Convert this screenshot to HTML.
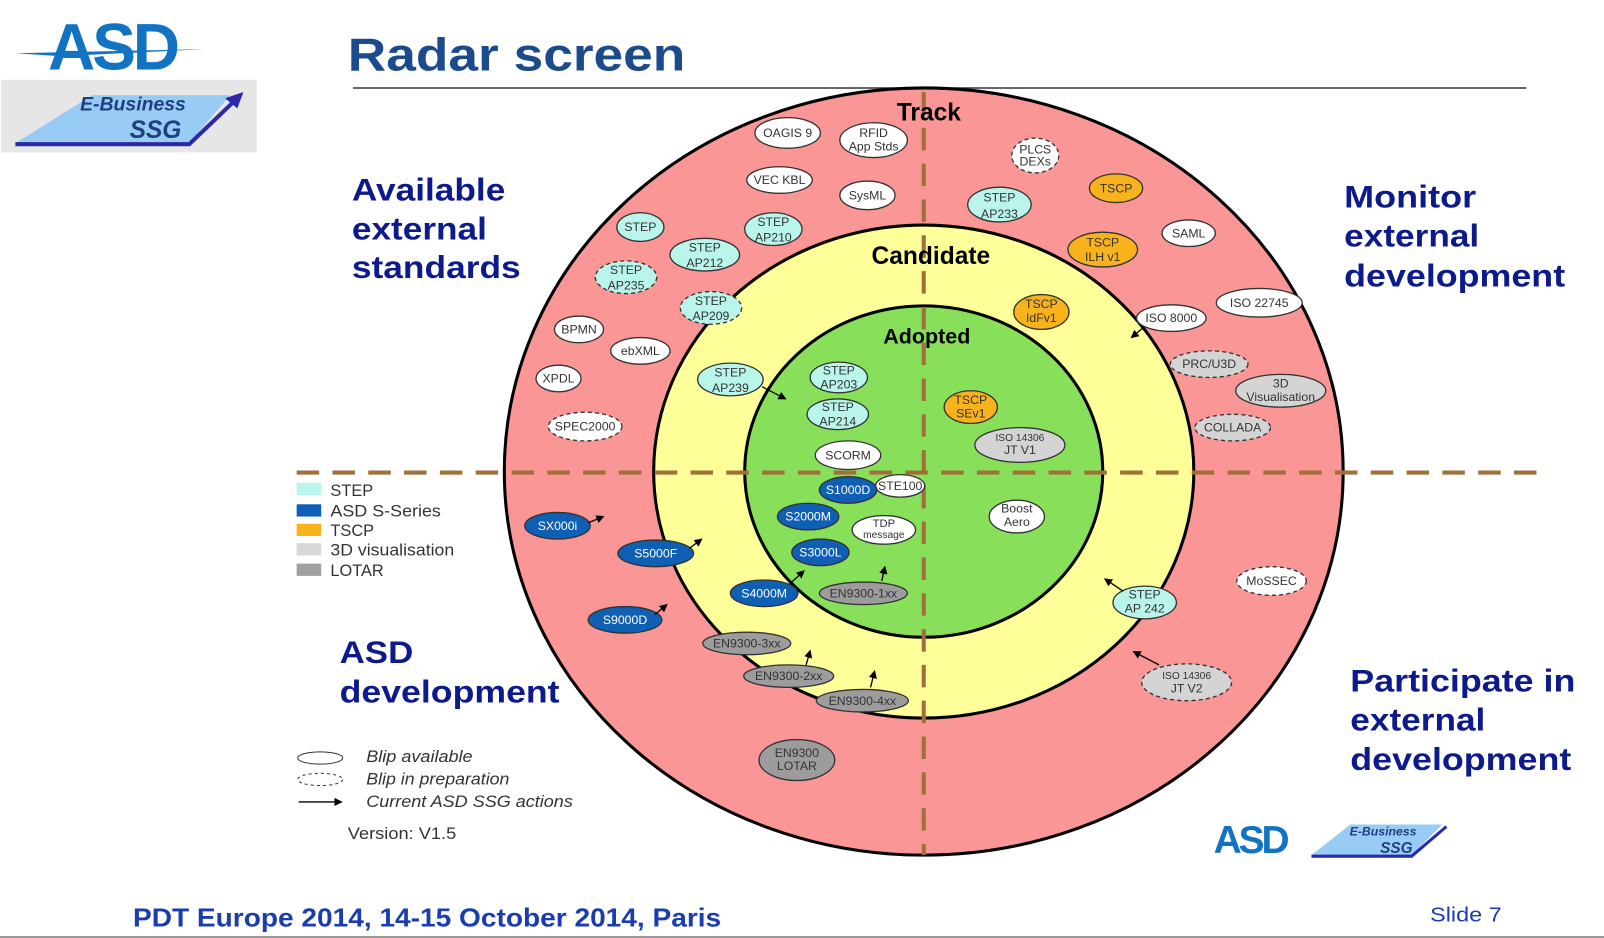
<!DOCTYPE html>
<html><head><meta charset="utf-8"><style>
html,body{margin:0;padding:0;background:#fff;overflow:hidden;}
svg{display:block;font-family:"Liberation Sans",sans-serif;}
.b text{font-size:12px;fill:#333;text-anchor:middle;}
.q{font-size:31px;font-weight:bold;fill:#0d1a8c;}
</style></head><body>
<svg width="1604" height="938" viewBox="0 0 1568 917" preserveAspectRatio="none" xmlns="http://www.w3.org/2000/svg">
<defs><marker id="ar" markerWidth="8" markerHeight="8" refX="7" refY="4" orient="auto" markerUnits="userSpaceOnUse"><path d="M0,0 L8,4 L0,8z" fill="#000"/></marker></defs>
<!-- logo -->
<text x="110" y="68" font-size="64" font-weight="bold" fill="#1273c2" text-anchor="middle" letter-spacing="-3">ASD</text>
<path d="M15,52 L200,48 L60,55z" fill="#1273c2"/>
<rect x="1" y="78" width="250" height="71" fill="#e6e6e6"/>
<path d="M15,140 L90,93 L225,93 L185,140z" fill="#99ccf5"/>
<path d="M15,141 L185,141 L232,96" stroke="#2a2aa8" stroke-width="4" fill="none"/>
<path d="M238,90 L220,96 L232,106z" fill="#2a2aa8"/>
<text x="130" y="108" font-size="19" font-weight="bold" font-style="italic" fill="#1e3f80" text-anchor="middle">E-Business</text>
<text x="152" y="135" font-size="24" font-weight="bold" font-style="italic" fill="#1e3f80" text-anchor="middle">SSG</text>
<!-- title -->
<text x="340" y="69" font-size="45" font-weight="bold" fill="#1b4b8c" textLength="330" lengthAdjust="spacingAndGlyphs">Radar screen</text>
<line x1="345" y1="86" x2="1492" y2="86" stroke="#333" stroke-width="1.5"/>
<!-- rings -->
<ellipse cx="903" cy="461" rx="410" ry="375" fill="#fa9696" stroke="#000" stroke-width="3"/>
<ellipse cx="903" cy="461" rx="264" ry="241" fill="#ffff99" stroke="#000" stroke-width="3"/>
<ellipse cx="903" cy="461" rx="175" ry="162" fill="#88e05a" stroke="#000" stroke-width="3"/>
<line x1="290" y1="462" x2="1512" y2="462" stroke="#a0703a" stroke-width="4" stroke-dasharray="22,13"/>
<line x1="903" y1="90" x2="903" y2="836" stroke="#a0703a" stroke-width="4" stroke-dasharray="22,13"/>
<text x="908" y="118" font-size="24" font-weight="bold" text-anchor="middle">Track</text>
<text x="910" y="258" font-size="24" font-weight="bold" text-anchor="middle">Candidate</text>
<text x="906" y="336" font-size="21" font-weight="bold" text-anchor="middle">Adopted</text>
<!-- quadrant labels -->
<g lengthAdjust="spacingAndGlyphs">
<text class="q" x="344" y="196" textLength="150" lengthAdjust="spacingAndGlyphs">Available</text><text class="q" x="344" y="234" textLength="132" lengthAdjust="spacingAndGlyphs">external</text><text class="q" x="344" y="272" textLength="165" lengthAdjust="spacingAndGlyphs">standards</text>
<text class="q" x="1314" y="203" textLength="129" lengthAdjust="spacingAndGlyphs">Monitor</text><text class="q" x="1314" y="241" textLength="132" lengthAdjust="spacingAndGlyphs">external</text><text class="q" x="1314" y="280" textLength="216" lengthAdjust="spacingAndGlyphs">development</text>
<text class="q" x="332" y="648" textLength="72" lengthAdjust="spacingAndGlyphs">ASD</text><text class="q" x="332" y="687" textLength="215" lengthAdjust="spacingAndGlyphs">development</text>
<text class="q" x="1320" y="676" textLength="220" lengthAdjust="spacingAndGlyphs">Participate in</text><text class="q" x="1320" y="714" textLength="132" lengthAdjust="spacingAndGlyphs">external</text><text class="q" x="1320" y="753" textLength="216" lengthAdjust="spacingAndGlyphs">development</text>
</g>
<!-- blips -->
<g class="b" stroke="#333" stroke-width="1.3">
<g fill="#fff"><ellipse cx="770" cy="130" rx="32" ry="15"/><ellipse cx="854" cy="137" rx="33" ry="17"/><ellipse cx="762" cy="176" rx="32" ry="13"/><ellipse cx="848" cy="191" rx="27" ry="14"/><ellipse cx="1162" cy="228" rx="26" ry="13"/><ellipse cx="1145" cy="311" rx="34" ry="13"/><ellipse cx="1231" cy="296" rx="42" ry="14"/><ellipse cx="566" cy="322" rx="24" ry="13"/><ellipse cx="626" cy="343" rx="29" ry="13"/><ellipse cx="546" cy="370" rx="22" ry="13"/><ellipse cx="829" cy="445" rx="32" ry="14"/><ellipse cx="880" cy="475" rx="24" ry="11"/><ellipse cx="994" cy="505" rx="27" ry="16"/><ellipse cx="864" cy="518" rx="31" ry="14"/></g>
<g fill="#fff" stroke-dasharray="4,3"><ellipse cx="1012" cy="152" rx="23" ry="17"/><ellipse cx="572" cy="417" rx="36" ry="14"/><ellipse cx="1243" cy="568" rx="34" ry="14"/></g>
<g fill="#b9f5ea"><ellipse cx="626" cy="222" rx="23" ry="14"/><ellipse cx="756" cy="224" rx="28" ry="16"/><ellipse cx="977" cy="200" rx="31" ry="17"/><ellipse cx="689" cy="249" rx="34" ry="16"/><ellipse cx="714" cy="371" rx="32" ry="16"/><ellipse cx="820" cy="369" rx="28" ry="15"/><ellipse cx="819" cy="405" rx="30" ry="15"/><ellipse cx="1119" cy="589" rx="31" ry="16"/></g>
<g fill="#b9f5ea" stroke-dasharray="4,3"><ellipse cx="612" cy="271" rx="30" ry="16"/><ellipse cx="695" cy="301" rx="30" ry="16"/></g>
<g fill="#f7b21c"><ellipse cx="1091" cy="184" rx="26" ry="14"/><ellipse cx="1078" cy="244" rx="34" ry="17"/><ellipse cx="1018" cy="305" rx="27" ry="17"/><ellipse cx="949" cy="398" rx="26" ry="16"/></g>
<g fill="#d4d4d4"><ellipse cx="1252" cy="382" rx="44" ry="16"/><ellipse cx="997" cy="435" rx="44" ry="17"/></g>
<g fill="#d4d4d4" stroke-dasharray="4,3"><ellipse cx="1182" cy="356" rx="38" ry="13"/><ellipse cx="1205" cy="418" rx="37" ry="13"/><ellipse cx="1160" cy="667" rx="44" ry="18"/></g>
<g fill="#0f5fb5"><ellipse cx="829" cy="479" rx="28" ry="13"/><ellipse cx="790" cy="505" rx="30" ry="13"/><ellipse cx="545" cy="514" rx="32" ry="13"/><ellipse cx="641" cy="541" rx="37" ry="13"/><ellipse cx="802" cy="540" rx="28" ry="13"/><ellipse cx="747" cy="580" rx="33" ry="13"/><ellipse cx="611" cy="606" rx="36" ry="13"/></g>
<g fill="#9c9c9c"><ellipse cx="844" cy="580" rx="43" ry="11"/><ellipse cx="730" cy="629" rx="43" ry="11"/><ellipse cx="771" cy="661" rx="44" ry="11"/><ellipse cx="843" cy="685" rx="45" ry="11"/><ellipse cx="779" cy="743" rx="37" ry="20"/></g>
</g>
<g class="b">
<text x="770" y="134">OAGIS 9</text><text x="854" y="134">RFID</text><text x="854" y="147">App Stds</text>
<text x="1012" y="150">PLCS</text><text x="1012" y="162">DEXs</text>
<text x="762" y="180">VEC KBL</text><text x="848" y="195">SysML</text>
<text x="626" y="226">STEP</text><text x="756" y="221">STEP</text><text x="756" y="236">AP210</text>
<text x="977" y="197">STEP</text><text x="977" y="213">AP233</text>
<text x="1091" y="188">TSCP</text><text x="1162" y="232">SAML</text>
<text x="1078" y="241">TSCP</text><text x="1078" y="255">ILH v1</text>
<text x="689" y="246">STEP</text><text x="689" y="261">AP212</text>
<text x="612" y="268">STEP</text><text x="612" y="283">AP235</text>
<text x="695" y="298">STEP</text><text x="695" y="313">AP209</text>
<text x="1018" y="301">TSCP</text><text x="1018" y="315">IdFv1</text>
<text x="1145" y="315">ISO 8000</text><text x="1231" y="300">ISO 22745</text>
<text x="566" y="326">BPMN</text><text x="626" y="347">ebXML</text>
<text x="1182" y="360">PRC/U3D</text><text x="1252" y="379">3D</text><text x="1252" y="392">Visualisation</text>
<text x="546" y="374">XPDL</text>
<text x="714" y="368">STEP</text><text x="714" y="383">AP239</text>
<text x="820" y="366">STEP</text><text x="820" y="380">AP203</text>
<text x="819" y="402">STEP</text><text x="819" y="416">AP214</text>
<text x="949" y="395">TSCP</text><text x="949" y="408">SEv1</text>
<text x="997" y="431" style="font-size:10px">ISO 14306</text><text x="997" y="444">JT V1</text>
<text x="572" y="421">SPEC2000</text><text x="1205" y="422">COLLADA</text>
<text x="829" y="449">SCORM</text><text x="880" y="479">STE100</text>
<text x="994" y="501">Boost</text><text x="994" y="514">Aero</text>
<text x="864" y="515" style="font-size:11px">TDP</text><text x="864" y="526" style="font-size:10px">message</text>
<text x="1243" y="572">MoSSEC</text>
<text x="1119" y="585">STEP</text><text x="1119" y="599">AP 242</text>
<text x="1160" y="664" style="font-size:10px">ISO 14306</text><text x="1160" y="677">JT V2</text>
<text x="829" y="483" style="fill:#fff">S1000D</text><text x="790" y="509" style="fill:#fff">S2000M</text><text x="545" y="518" style="fill:#fff">SX000i</text><text x="641" y="545" style="fill:#fff">S5000F</text><text x="802" y="544" style="fill:#fff">S3000L</text><text x="747" y="584" style="fill:#fff">S4000M</text><text x="611" y="610" style="fill:#fff">S9000D</text>
<text x="844" y="584">EN9300-1xx</text><text x="730" y="633">EN9300-3xx</text><text x="771" y="665">EN9300-2xx</text><text x="843" y="689">EN9300-4xx</text>
<text x="779" y="740">EN9300</text><text x="779" y="753">LOTAR</text>
</g>
<!-- arrows -->
<g stroke="#000" stroke-width="1.3" marker-end="url(#ar)">
<line x1="745" y1="378" x2="768" y2="390"/><line x1="575" y1="511" x2="590" y2="505"/><line x1="674" y1="536" x2="686" y2="527"/>
<line x1="640" y1="601" x2="652" y2="591"/><line x1="774" y1="569" x2="786" y2="558"/><line x1="862" y1="568" x2="865" y2="554"/>
<line x1="788" y1="650" x2="792" y2="636"/><line x1="851" y1="672" x2="855" y2="656"/><line x1="1098" y1="578" x2="1080" y2="566"/>
<line x1="1118" y1="320" x2="1106" y2="330"/><line x1="1133" y1="650" x2="1108" y2="637"/>
</g>
<!-- legend -->
<rect x="290" y="472" width="24" height="12" fill="#b9f5ea"/><rect x="290" y="493" width="24" height="12" fill="#0f5fb5"/><rect x="290" y="512" width="24" height="12" fill="#f7b21c"/><rect x="290" y="531" width="24" height="12" fill="#d8d8d8"/><rect x="290" y="551" width="24" height="12" fill="#a0a0a0"/>
<g font-size="16" fill="#333"><text x="323" y="485">STEP</text><text x="323" y="505" textLength="108" lengthAdjust="spacingAndGlyphs">ASD S-Series</text><text x="323" y="524">TSCP</text><text x="323" y="543" textLength="121" lengthAdjust="spacingAndGlyphs">3D visualisation</text><text x="323" y="563">LOTAR</text></g>
<ellipse cx="313" cy="741" rx="22" ry="6" fill="none" stroke="#333"/><ellipse cx="313" cy="762" rx="22" ry="6" fill="none" stroke="#333" stroke-dasharray="3,3"/>
<line x1="292" y1="784" x2="334" y2="784" stroke="#000" stroke-width="1.3" marker-end="url(#ar)"/>
<g font-size="16" font-style="italic" fill="#333"><text x="358" y="745" textLength="104" lengthAdjust="spacingAndGlyphs">Blip available</text><text x="358" y="767" textLength="140" lengthAdjust="spacingAndGlyphs">Blip in preparation</text><text x="358" y="789" textLength="202" lengthAdjust="spacingAndGlyphs">Current ASD SSG actions</text></g>
<text x="340" y="820" font-size="16" fill="#333" textLength="106" lengthAdjust="spacingAndGlyphs">Version: V1.5</text>
<!-- bottom logo -->
<text x="1222" y="834" font-size="38" font-weight="bold" fill="#1273c2" text-anchor="middle" letter-spacing="-3">ASD</text>
<path d="M1282,836 L1320,806 L1410,806 L1380,836z" fill="#99ccf5"/>
<path d="M1282,837 L1380,837 L1414,808" stroke="#2a2aa8" stroke-width="3" fill="none"/>
<text x="1352" y="817" font-size="12" font-weight="bold" font-style="italic" fill="#1e3f80" text-anchor="middle">E-Business</text>
<text x="1365" y="834" font-size="15" font-weight="bold" font-style="italic" fill="#1e3f80" text-anchor="middle">SSG</text>
<!-- footer -->
<text x="130" y="906" font-size="25" font-weight="bold" fill="#1a3cb0" textLength="575" lengthAdjust="spacingAndGlyphs">PDT Europe 2014, 14-15 October 2014, Paris</text>
<text x="1398" y="901" font-size="20" fill="#1a3cb0" textLength="70" lengthAdjust="spacingAndGlyphs">Slide 7</text>
<line x1="0" y1="916" x2="1568" y2="916" stroke="#333" stroke-width="1"/>
</svg>
</body></html>
